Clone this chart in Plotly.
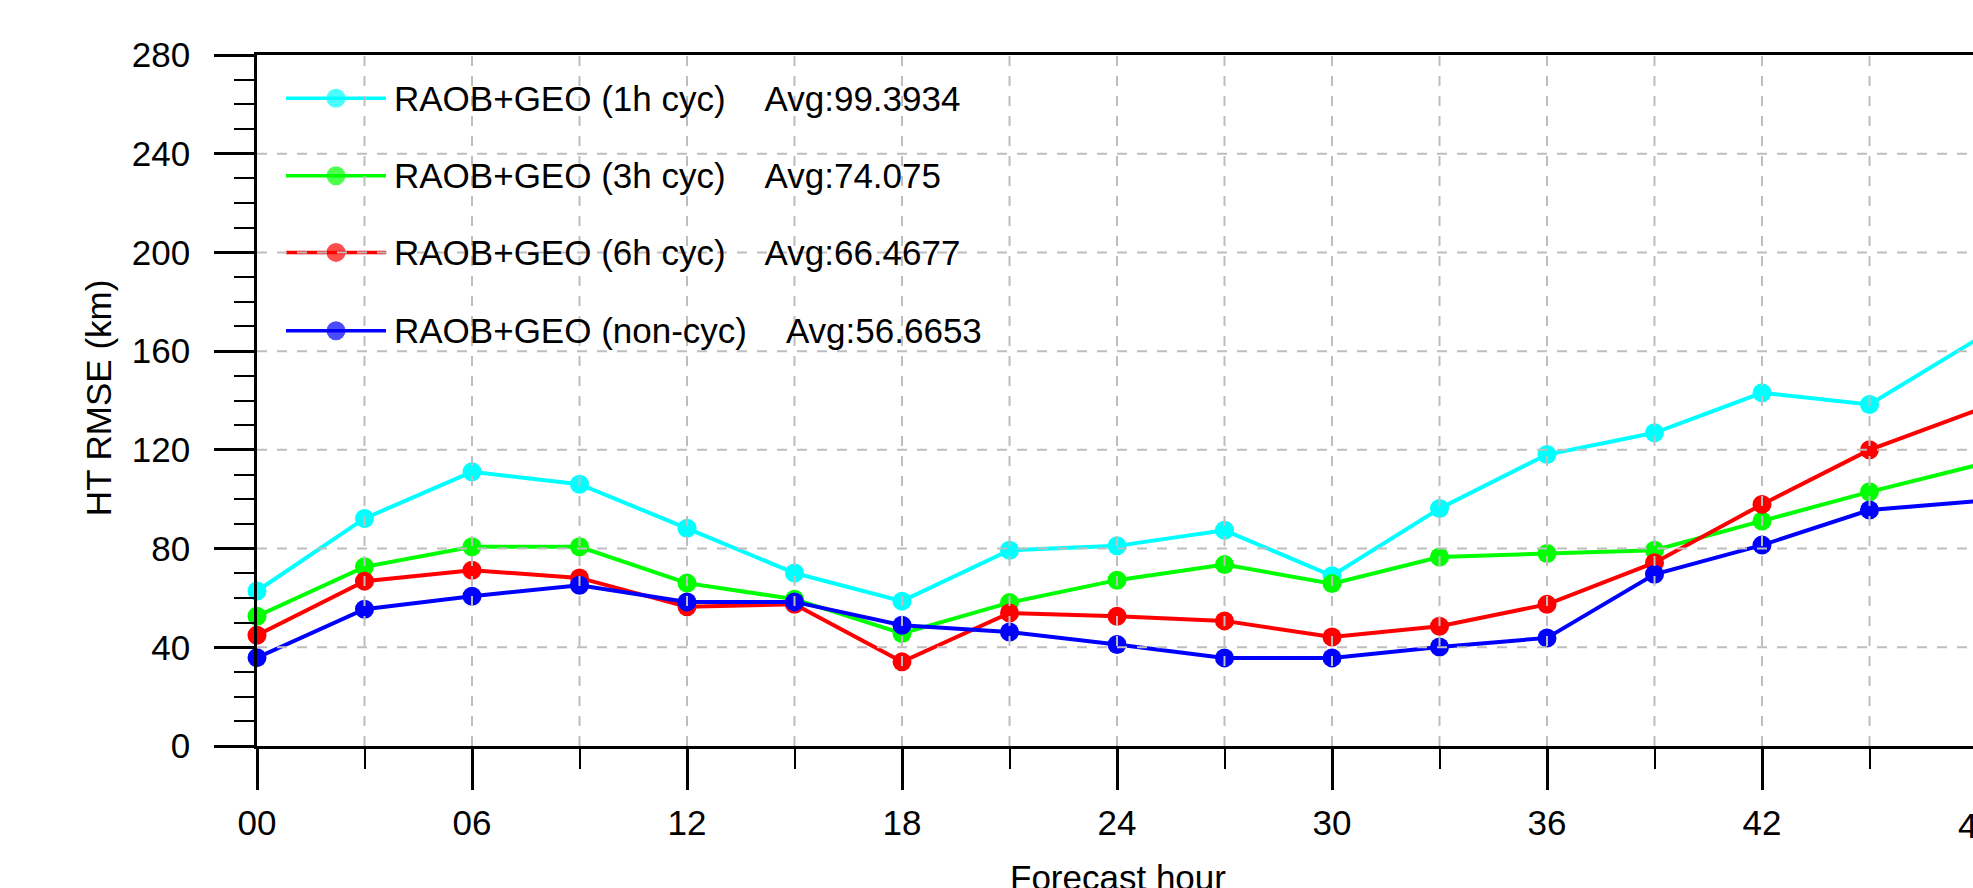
import plotly.graph_objects as go

# ---------------- data ----------------
hours = [0, 3, 6, 9, 12, 15, 18, 21, 24, 27, 30, 33, 36, 39, 42, 45, 48]
cyc1h = [62.8, 92.2, 111.1, 106.1, 88.2, 70.1, 58.7, 79.3, 81.1, 87.4, 69.0, 96.2, 118.1, 126.9, 143.1, 138.4, 164.8]
cyc3h = [52.6, 72.6, 80.7, 80.7, 66.0, 59.5, 45.6, 58.1, 67.2, 73.5, 65.8, 76.6, 78.0, 79.3, 91.2, 103.0, 113.8]
cyc6h = [44.9, 66.8, 71.2, 68.1, 56.4, 57.4, 34.1, 53.9, 52.6, 50.7, 44.2, 48.5, 57.4, 74.3, 97.9, 120.0, 136.1]
noncyc = [35.8, 55.4, 60.7, 65.1, 58.4, 58.4, 48.9, 46.2, 41.1, 35.7, 35.7, 40.1, 43.8, 69.6, 81.4, 95.6, 99.2]

series_names = ["RAOB+GEO (1h cyc)", "RAOB+GEO (3h cyc)", "RAOB+GEO (6h cyc)", "RAOB+GEO (non-cyc)"]
avg_labels = ["Avg:99.3934", "Avg:74.075", "Avg:66.4677", "Avg:56.6653"]
colors = ["#00FFFF", "#00FF00", "#FF0000", "#0000FF"]

x_major = [0, 6, 12, 18, 24, 30, 36, 42, 48]
x_major_text = ["00", "06", "12", "18", "24", "30", "36", "42", "48"]
x_minor = [3, 9, 15, 21, 27, 33, 39, 45]
y_major = [0, 40, 80, 120, 160, 200, 240, 280]
y_minor = [v for v in range(0, 281, 10) if v % 40 != 0]
y_grid = [40, 80, 120, 160, 200, 240]

FONT = "Liberation Sans, Arial, Helvetica, sans-serif"
FS = 35
GRID = "#BEBEBE"

# ---------------- geometry ----------------
W, H = 1973, 888
L, T = 257, 55
B_PIX = 745.7
HOUR_PX = (1762.6 - 257.6) / 42.0
X_END = (W - L) / HOUR_PX  # plot continues slightly beyond the visible page

fig = go.Figure()

for name, vals, col in zip(series_names, [cyc1h, cyc3h, cyc6h, noncyc], colors):
    fig.add_trace(go.Scatter(
        x=hours, y=vals, mode="lines+markers", name=name,
        line=dict(color=col, width=4),
        marker=dict(size=19, color=col, line=dict(width=0)),
        cliponaxis=False, showlegend=False, hoverinfo="skip"))

# ---------------- manual legend (pixel overlay axes) ----------------
leg_rows = [98.3, 175.7, 252.3, 330.7]
for name, avg, col, yr in zip(series_names, avg_labels, colors, leg_rows):
    fig.add_trace(go.Scatter(
        x=[286, 336, 386], y=[yr, yr, yr], xaxis="x2", yaxis="y2",
        mode="lines+markers", line=dict(color=col, width=3.5),
        marker=dict(size=[0, 19, 0], color=col, line=dict(width=0)),
        showlegend=False, hoverinfo="skip", cliponaxis=False))
    fig.add_annotation(x=392, y=yr, xref="x2", yref="y2", xanchor="left", yanchor="middle",
                       showarrow=False, text=name + "\u00a0" * 4 + avg,
                       font=dict(family=FONT, size=FS, color="black"))

# ---------------- grid drawn above the data ----------------
shapes = []
for xv in x_minor + x_major[1:-1]:
    shapes.append(dict(type="line", xref="x", yref="y", x0=xv, x1=xv, y0=0, y1=280,
                       line=dict(color=GRID, width=2, dash="10px,10px"), layer="above"))
for yv in y_grid:
    shapes.append(dict(type="line", xref="paper", yref="y", x0=0, x1=1, y0=yv, y1=yv,
                       line=dict(color=GRID, width=2, dash="10px,10px"), layer="above"))

plot_w = W - L
plot_h = B_PIX - T

fig.update_layout(
    width=W, height=H,
    margin=dict(l=L, r=0, t=T, b=H - B_PIX, pad=0),
    paper_bgcolor="white", plot_bgcolor="white",
    font=dict(family=FONT, size=FS, color="black"),
    shapes=shapes,
    xaxis=dict(range=[0, X_END], tickvals=x_major, ticktext=x_major_text,
               ticks="outside", ticklen=41, tickwidth=2.5, tickcolor="black",
               showline=True, linewidth=2.5, linecolor="black", mirror=True,
               showgrid=False, zeroline=False, layer="above traces",
               tickfont=dict(family=FONT, size=FS), ticklabelstandoff=3,
               minor=dict(tickvals=x_minor, ticks="outside", ticklen=20, tickwidth=2,
                          tickcolor="black", showgrid=False)),
    yaxis=dict(range=[0, 280], tickvals=y_major,
               ticks="outside", ticklen=40, tickwidth=2.5, tickcolor="black",
               showline=True, linewidth=2.5, linecolor="black", mirror=False,
               showgrid=False, zeroline=False, layer="above traces",
               tickfont=dict(family=FONT, size=FS), ticklabelstandoff=17,
               minor=dict(tickvals=y_minor, ticks="outside", ticklen=20, tickwidth=2,
                          tickcolor="black", showgrid=False)),
    xaxis2=dict(range=[L, W], overlaying="x", anchor="y2", visible=False),
    yaxis2=dict(range=[B_PIX, T], overlaying="y", anchor="x2", visible=False),
)

# axis titles and the partially visible last tick label
fig.add_annotation(xref="paper", yref="paper", x=(98 - L) / plot_w, y=(B_PIX - 398) / plot_h,
                   text="HT RMSE (km)", textangle=-90, showarrow=False,
                   xanchor="center", yanchor="middle", font=dict(family=FONT, size=FS))
fig.add_annotation(xref="paper", yref="paper", x=(257.6 + 24 * HOUR_PX - L) / plot_w,
                   y=(B_PIX - 877.5) / plot_h, text="Forecast hour", showarrow=False,
                   xanchor="center", yanchor="middle", font=dict(family=FONT, size=FS))
fig.add_annotation(xref="paper", yref="paper", x=(257.6 + 48 * HOUR_PX - L) / plot_w,
                   y=(B_PIX - 825) / plot_h, text=x_major_text[-1], showarrow=False,
                   xanchor="center", yanchor="middle", font=dict(family=FONT, size=FS))

fig.write_html("out.html")
